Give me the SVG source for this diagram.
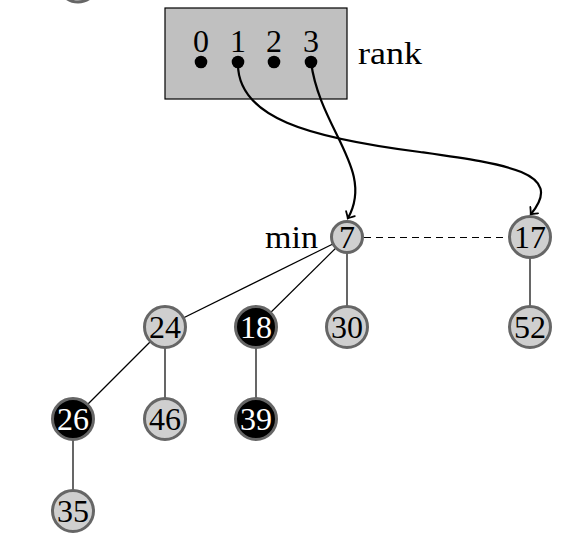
<svg xmlns="http://www.w3.org/2000/svg" width="572" height="560" viewBox="0 0 572 560">
<defs>
<style>
.n{fill:#cfcfcf;stroke:#666;stroke-width:3}
.b{fill:#000;stroke:#666;stroke-width:3}
.t{font-family:"Liberation Serif","DejaVu Serif",serif;font-size:32px;text-anchor:middle;fill:#000}
.w{fill:#fff}
.e{stroke:#000;stroke-width:1.2;fill:none}
.a{stroke:#000;stroke-width:2.2;fill:none;marker-end:url(#to)}
.d{fill:#000}
</style>
<marker id="to" viewBox="-6 -6 8 12" markerWidth="8" markerHeight="12" refX="0" refY="0" orient="auto" markerUnits="userSpaceOnUse">
<path d="M-5,-5 Q-1,-1 0.5,0 Q-1,1 -5,5" fill="none" stroke="#000" stroke-width="1.8" stroke-linecap="round"/>
</marker>
</defs>
<g id="partial"><circle class="n" cx="78" cy="-18" r="20"/></g>
<g id="rankbox">
<rect x="165" y="8" width="182" height="91" fill="#c0c0c0" stroke="#000" stroke-width="1.2"/>
<text class="t" x="201" y="52">0</text>
<text class="t" x="238" y="52">1</text>
<text class="t" x="274" y="52">2</text>
<text class="t" x="311" y="52">3</text>
<circle class="d" cx="201" cy="62" r="6.3"/>
<circle class="d" cx="238" cy="62" r="6.3"/>
<circle class="d" cx="274" cy="62" r="6.3"/>
<circle class="d" cx="311" cy="62" r="6.3"/>
</g>
<text class="t" x="358" y="64" style="text-anchor:start" textLength="64" lengthAdjust="spacingAndGlyphs">rank</text>
<text class="t" x="318" y="248" style="text-anchor:end" textLength="53" lengthAdjust="spacingAndGlyphs">min</text>
<g id="connectors">
<line class="e" x1="347" y1="237" x2="165" y2="327"/>
<line class="e" x1="347" y1="237" x2="256" y2="327"/>
<line class="e" x1="347" y1="237" x2="347" y2="327"/>
<line class="e" x1="530" y1="237" x2="530" y2="327"/>
<line class="e" x1="165" y1="327" x2="73" y2="419"/>
<line class="e" x1="165" y1="327" x2="165" y2="419"/>
<line class="e" x1="256" y1="327" x2="256" y2="419"/>
<line class="e" x1="73" y1="419" x2="73" y2="511"/>
<line class="e" x1="364" y1="237.5" x2="508" y2="237.5" stroke-dasharray="7 5"/>
<path class="a" d="M238,62 C236,118 310,138 420,152 C505,164 566,172 531,214"/>
<path class="a" d="M311,62 C320,130 375,170 348,218"/>
</g>
<g id="n7"><circle class="n" cx="347" cy="237" r="15.5"/><text class="t" x="347" y="248">7</text></g>
<g id="n17"><circle class="n" cx="530" cy="237" r="20.5"/><text class="t" x="530" y="248">17</text></g>
<g id="n24"><circle class="n" cx="165" cy="327" r="20.5"/><text class="t" x="165" y="338">24</text></g>
<g id="n18"><circle class="b" cx="256" cy="327" r="20.5"/><text class="t w" x="256" y="338">18</text></g>
<g id="n30"><circle class="n" cx="347" cy="327" r="20.5"/><text class="t" x="347" y="338">30</text></g>
<g id="n52"><circle class="n" cx="530" cy="327" r="20.5"/><text class="t" x="530" y="338">52</text></g>
<g id="n26"><circle class="b" cx="73" cy="419" r="20.5"/><text class="t w" x="73" y="430">26</text></g>
<g id="n46"><circle class="n" cx="165" cy="419" r="20.5"/><text class="t" x="165" y="430">46</text></g>
<g id="n39"><circle class="b" cx="256" cy="419" r="20.5"/><text class="t w" x="256" y="430">39</text></g>
<g id="n35"><circle class="n" cx="73" cy="511" r="20.5"/><text class="t" x="73" y="522">35</text></g>
</svg>
